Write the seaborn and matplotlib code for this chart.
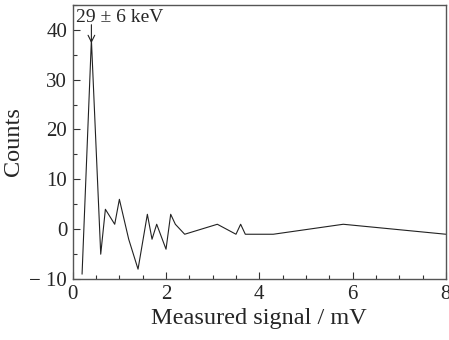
import matplotlib
matplotlib.use("Agg")
import matplotlib.pyplot as plt
import seaborn as sns
import pandas as pd
from matplotlib.ticker import MultipleLocator

signal_mV = [0.2, 0.4, 0.6, 0.7, 0.9, 1.0, 1.2, 1.4, 1.6, 1.7, 1.8, 2.0, 2.1, 2.2, 2.4,
             3.1, 3.5, 3.6, 3.7, 4.3, 5.8, 8.0]
counts = [-9, 38, -5, 4, 1, 6, -2, -8, 3, -2, 1, -4, 3, 1, -1,
          1, -1, 1, -1, -1, 1, -1]
annotation = "29 ± 6 keV"
x_ticks = [0, 2, 4, 6, 8]
y_ticks = [-10, 0, 10, 20, 30, 40]

df = pd.DataFrame({"signal": signal_mV, "counts": counts})

sns.set_theme(style="ticks")
plt.rcParams['font.family'] = ['Liberation Serif', 'DejaVu Serif']

fig = plt.figure(figsize=(4.49, 3.40), dpi=100)
ax = fig.add_axes([0.162, 0.179, 0.831, 0.807])
sns.lineplot(data=df, x="signal", y="counts", ax=ax, color="#222222", linewidth=0.8,
             sort=False, estimator=None)

ax.set_xlim(0, 8)
ax.set_ylim(-10, 45)
ax.set_xticks(x_ticks)
ax.set_yticks(y_ticks)
ax.set_yticklabels([("− 10" if v < 0 else str(v)) for v in y_ticks])
ax.xaxis.set_minor_locator(MultipleLocator(0.5))
ax.yaxis.set_minor_locator(MultipleLocator(5))
ax.tick_params(which="both", direction="in", top=False, right=False, labelsize=15,
               color="#333333")
ax.tick_params(which="major", length=5, width=0.8, pad=4)
ax.tick_params(which="minor", length=3, width=0.8)
for s in ax.spines.values():
    s.set_color("#555555")
    s.set_linewidth(1.0)

ax.set_xlabel("Measured signal / mV", fontsize=17.5, labelpad=3)
ax.set_ylabel("Counts", fontsize=17.5, labelpad=4)

ax.text(0.07, 41.5, annotation, fontsize=14, ha="left", va="baseline")
ax.annotate("", xy=(0.4, 37.3), xytext=(0.4, 41.0),
            arrowprops=dict(arrowstyle="->", color="#222222", lw=0.8,
                            shrinkA=0, shrinkB=0))

fig.savefig("out.png", dpi=100)
